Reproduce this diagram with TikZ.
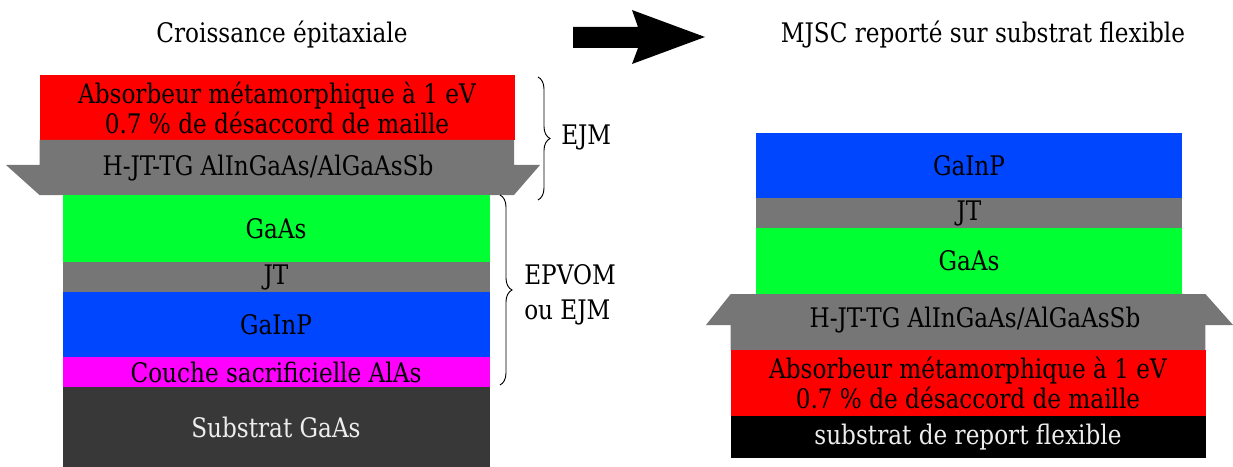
\documentclass[tikz,border=0pt]{standalone}
\usepackage{fontspec}
\setmainfont{DejaVu Serif}[FakeStretch=0.86]
\usetikzlibrary{positioning, decorations.pathreplacing}
\definecolor{cRed}{RGB}{255,0,0}
\definecolor{cGrey}{RGB}{118,118,118}
\definecolor{cGreen}{RGB}{0,255,51}
\definecolor{cBlue}{RGB}{0,70,255}
\definecolor{cMagenta}{RGB}{255,0,255}
\definecolor{cSub}{RGB}{56,56,56}
\newcommand{\lblfont}{\fontsize{20.2}{22.5}\selectfont}
\tikzset{
	layer/.style 2 args={rectangle, inner sep=0pt, outer sep=0pt, align=center, font=\lblfont, minimum width=#1*0.75pt, minimum height=#2*0.75pt},
	tjbox/.style   ={fill=cGrey},
	lbl/.style     ={font=\lblfont, inner sep=0pt, align=center},
	brc/.style     ={decorate, decoration={brace, amplitude=9pt}, line width=0.7pt},
}
\begin{document}
\begin{tikzpicture}[x=0.75pt, y=-0.75pt]
	\useasboundingbox (0,0) rectangle (1233,467);
	% titres
	\node[lbl] (titreL) at (282,35) {Croissance épitaxiale};
	\node[lbl] (titreR) at (983,35) {MJSC reporté sur substrat flexible};
	\fill (573,27) -- (638,27) -- (632,10) -- (705,37) -- (632,64) -- (638,48) -- (573,48) -- cycle;
	% empilement de croissance
	\node[layer={475}{65}, fill=cRed, anchor=north] (Labs) at (277,75) {Absorbeur métamorphique à 1 eV\\0.7 \% de désaccord de maille};
	\fill[cGrey] (39.5,140) -- (514,140) -- (514,165) -- (540,165) -- (514,195) -- (39.5,195) -- (6,165) -- (39.5,165) -- cycle;
	\node[lbl] (Ltj) at (268,168) {H-JT-TG AlInGaAs/AlGaAsSb};
	\node[layer={427}{67}, fill=cGreen, anchor=north] (Lgaas) at (276,195) {GaAs};
	\node[layer={427}{30}, tjbox, below=0pt of Lgaas] (Ljt) {JT};
	\node[layer={427}{65}, fill=cBlue, below=0pt of Ljt] (Lgainp) {GaInP};
	\node[layer={427}{30}, fill=cMagenta, below=0pt of Lgainp] (Lsacr) {Couche sacrificielle AlAs};
	\node[layer={427}{80}, fill=cSub, text=white!93!black, below=0pt of Lsacr] (Lsub) {Substrat GaAs};
	% accolades
	\coordinate (ejmA) at (538,77); \coordinate (ejmB) at (538,200);
	\coordinate (epvA) at (500,195); \coordinate (epvB) at (500,385);
	\draw[brc] (ejmA) -- (ejmB);
	\draw[brc] (epvA) -- (epvB);
	\node[lbl, anchor=west] (ejm) at (561,137) {EJM};
	\node[lbl, anchor=west, align=left, font=\fontsize{20.2}{26}\selectfont] (epvom) at (524,295) {EPVOM\\ou EJM};
	% MJSC reportee
	\node[layer={426}{65}, fill=cBlue, anchor=north] (Rgainp) at (969,133) {GaInP};
	\node[layer={426}{30}, tjbox, below=0pt of Rgainp] (Rjt) {JT};
	\node[layer={426}{66}, fill=cGreen, below=0pt of Rjt] (Rgaas) {GaAs};
	\fill[cGrey] (730.7,294) -- (1205.4,294) -- (1233,325) -- (1205.4,325) -- (1205.4,350) -- (730.7,350) -- (730.7,325) -- (706,325) -- cycle;
	\node[lbl] (Rtj) at (975,320) {H-JT-TG AlInGaAs/AlGaAsSb};
	\node[layer={475}{66}, fill=cRed, anchor=north] (Rabs) at (968,350) {Absorbeur métamorphique à 1 eV\\0.7 \% de désaccord de maille};
	\node[layer={475}{42}, fill=black, text=white!93!black, below=0pt of Rabs] (Rsub) {substrat de report flexible};
\end{tikzpicture}
\end{document}
